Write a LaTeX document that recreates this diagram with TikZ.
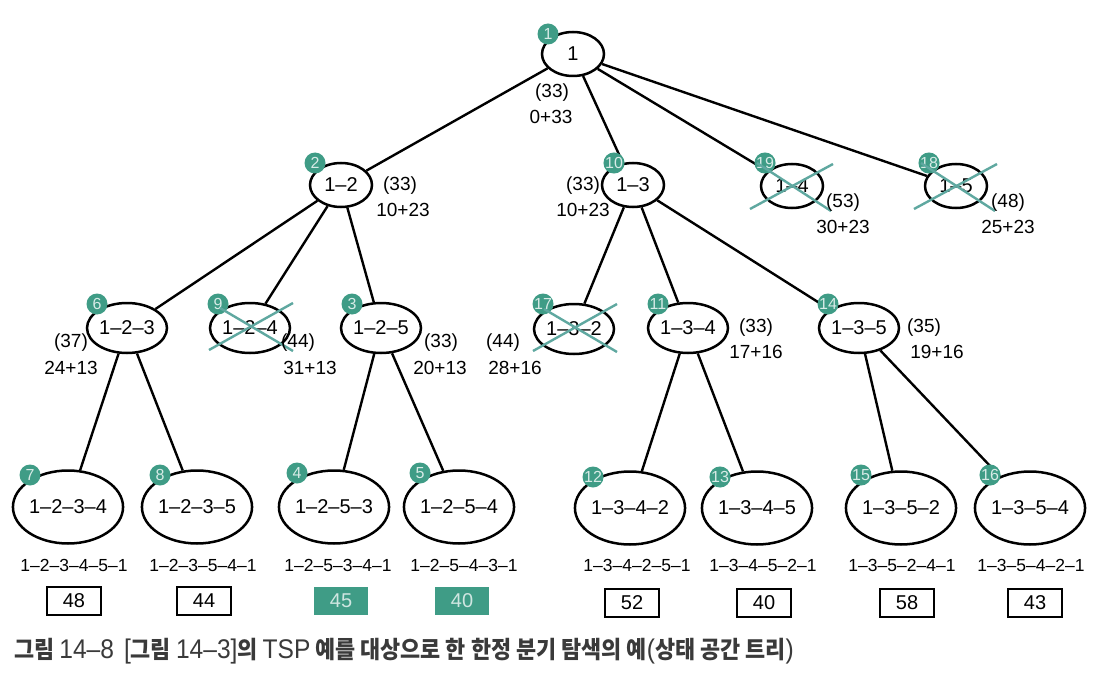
\documentclass[tikz,border=0pt]{standalone}
\usepackage{fontspec}
\setmainfont{Liberation Sans}
\newfontfamily\kr{Noto Sans CJK KR}
\usetikzlibrary{shapes.geometric,calc}
\definecolor{teal}{HTML}{3F9C86}
\definecolor{xcol}{HTML}{5FA8A0}
\definecolor{capcol}{HTML}{3A3A3A}
\newcommand{\lat}[1]{{\rmfamily\mdseries\fontsize{27}{27}\selectfont #1}}
\begin{document}
\begin{tikzpicture}[x=1pt,y=-1pt,
  every node/.style={font=\fontsize{20}{20}\selectfont},
  st/.style={draw, ellipse, line width=2.5pt, inner sep=0pt, minimum width=62pt, minimum height=44pt},
  stb/.style={st, minimum width=80pt, minimum height=50pt},
  stc/.style={st, minimum width=107pt, minimum height=73pt},
  badge/.style={circle, fill=teal, inner sep=0pt, minimum size=21pt, text=white!80!teal, font=\fontsize{16}{16}\selectfont},
  conn/.style={line width=2.4pt},
  lbl/.style={font=\fontsize{19}{19}\selectfont, inner sep=0pt},
  plbl/.style={font=\fontsize{17.5}{17.5}\selectfont, inner sep=0pt},
  res/.style={draw, line width=1.3pt, minimum width=54pt, minimum height=28pt, inner sep=0pt, font=\fontsize{20}{20}\selectfont},
  resg/.style={res, draw=none, fill=teal, text=white!75!teal},
  xline/.style={draw=xcol, line width=2.4pt},
]
\useasboundingbox[fill=white] (0,0) rectangle (1102,679);

% level 0
\node[st] (n1) at (573,54) {1};
% level 1
\node[st] (n2) at (341,185) {1--2};
\node[st] (n10) at (633,185) {1--3};
\node[st] (n19) at (792,186) {1--4};
\node[st] (n18) at (956,186) {1--5};
% level 2
\node[stb] (n6) at (127,328) {1--2--3};
\node[stb] (n9) at (250,328) {1--2--4};
\node[stb] (n3) at (381,328) {1--2--5};
\node[stb] (n17) at (574,329) {1--3--2};
\node[stb] (n11) at (688,328) {1--3--4};
\node[stb] (n14) at (859,328) {1--3--5};
% level 3
\node[stc] (n7) at (68,507) {1--2--3--4};
\node[stc] (n8) at (197,507) {1--2--3--5};
\node[stc] (n4) at (334,507) {1--2--5--3};
\node[stc] (n5) at (459,507) {1--2--5--4};
\node[stc] (n12) at (630,508) {1--3--4--2};
\node[stc] (n13) at (757,508) {1--3--4--5};
\node[stc] (n15) at (901,508) {1--3--5--2};
\node[stc] (n16) at (1030,508) {1--3--5--4};

% connectors
\foreach \a/\b in {n1/n2,n1/n10,n1/n19,n1/n18,n2/n6,n2/n9,n2/n3,n10/n17,n10/n11,n10/n14,
  n6/n7,n6/n8,n3/n4,n3/n5,n11/n12,n11/n13,n14/n15,n14/n16}
  \draw[conn] (\a) -- (\b);

% badges
\node[badge] (b1) at ($(n1)+(-25,-20)$) {1};
\node[badge] (b2) at ($(n2)+(-26,-22)$) {2};
\node[badge] (b10) at ($(n10)+(-19,-22)$) {10};
\node[badge] (b19) at ($(n19)+(-27,-23)$) {19};
\node[badge] (b18) at ($(n18)+(-27,-23)$) {18};
\node[badge] (b6) at ($(n6)+(-30,-24)$) {6};
\node[badge] (b9) at ($(n9)+(-32,-24)$) {9};
\node[badge] (b3) at ($(n3)+(-29,-24)$) {3};
\node[badge] (b17) at ($(n17)+(-31,-25)$) {17};
\node[badge] (b11) at ($(n11)+(-30,-24)$) {11};
\node[badge] (b14) at ($(n14)+(-31,-24)$) {14};
\node[badge] (b7) at ($(n7)+(-38,-32)$) {7};
\node[badge] (b8) at ($(n8)+(-37,-32)$) {8};
\node[badge] (b4) at ($(n4)+(-37,-34)$) {4};
\node[badge] (b5) at ($(n5)+(-39,-34)$) {5};
\node[badge] (b12) at ($(n12)+(-37,-31)$) {12};
\node[badge] (b13) at ($(n13)+(-37,-31)$) {13};
\node[badge] (b15) at ($(n15)+(-40,-33)$) {15};
\node[badge] (b16) at ($(n16)+(-40,-33)$) {16};

% crossed-out nodes
\foreach \n in {n19,n18} {
  \draw[xline] ($(\n)+(-42,23)$) -- ($(\n)+(41,-22)$);
  \draw[xline] ($(\n)+(-35,-23)$) -- ($(\n)+(39,25)$);
}
\foreach \n in {n9,n17} {
  \draw[xline] ($(\n)+(-41,22)$) -- ($(\n)+(43,-25)$);
  \draw[xline] ($(\n)+(-30,-20)$) -- ($(\n)+(43,23)$);
}

% bound labels
\node[lbl] (l1a) at (552,93) {(33)};
\node[lbl] (l1b) at (551,117) {0+33};
\node[lbl] (l2a) at (400,186) {(33)};
\node[lbl] (l2b) at (403,210) {10+23};
\node[lbl] (l10a) at (583,186) {(33)};
\node[lbl] (l10b) at (583,210) {10+23};
\node[lbl] (l19a) at (843,203) {(53)};
\node[lbl] (l19b) at (843,227) {30+23};
\node[lbl] (l18a) at (1008,203) {(48)};
\node[lbl] (l18b) at (1008,227) {25+23};
\node[lbl] (l6a) at (71,343) {(37)};
\node[lbl] (l6b) at (71,368) {24+13};
\node[lbl] (l9a) at (298,343) {(44)};
\node[lbl] (l9b) at (310,368) {31+13};
\node[lbl] (l3a) at (441,343) {(33)};
\node[lbl] (l3b) at (440,368) {20+13};
\node[lbl] (l17a) at (503,343) {(44)};
\node[lbl] (l17b) at (515,368) {28+16};
\node[lbl] (l11a) at (756,328) {(33)};
\node[lbl] (l11b) at (756,352) {17+16};
\node[lbl] (l14a) at (924,328) {(35)};
\node[lbl] (l14b) at (937,352) {19+16};

% tour labels
\node[plbl] (p7) at (74,565) {1--2--3--4--5--1};
\node[plbl] (p8) at (203,565) {1--2--3--5--4--1};
\node[plbl] (p4) at (338,565) {1--2--5--3--4--1};
\node[plbl] (p5) at (464,565) {1--2--5--4--3--1};
\node[plbl] (p12) at (637,565) {1--3--4--2--5--1};
\node[plbl] (p13) at (763,565) {1--3--4--5--2--1};
\node[plbl] (p15) at (902,565) {1--3--5--2--4--1};
\node[plbl] (p16) at (1031,565) {1--3--5--4--2--1};

% results
\node[res] (r7) at (74,601) {48};
\node[res] (r8) at (204,601) {44};
\node[resg] (r4) at (341,601) {45};
\node[resg] (r5) at (462,601) {40};
\node[res] (r12) at (632,603) {52};
\node[res] (r13) at (764,603) {40};
\node[res] (r15) at (907,603) {58};
\node[res] (r16) at (1035,603) {43};

% caption
\node[anchor=west, inner sep=0pt, text=capcol] (cap) at (14,651)
  {\kr\bfseries\fontsize{24}{24}\selectfont\scalebox{0.91}[1]{그림 \lat{14--8}\ \ \lat{[}그림 \lat{14--3]}의 \lat{TSP} 예를 대상으로 한 한정 분기 탐색의 예\lat{(}상태 공간 트리\lat{)}}};
\end{tikzpicture}
\end{document}
